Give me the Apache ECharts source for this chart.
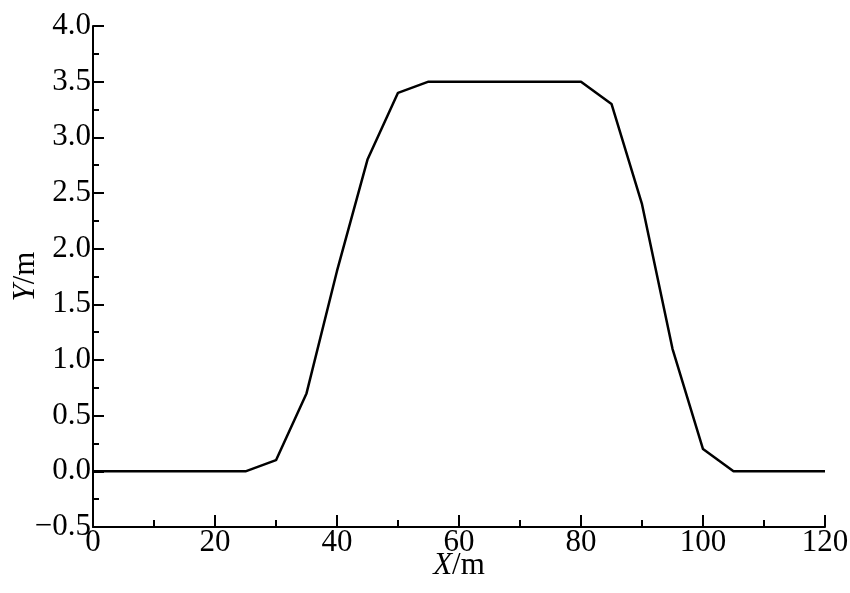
<!DOCTYPE html>
<html><head><meta charset="utf-8">
<script src="https://cdn.jsdelivr.net/npm/echarts@6/dist/echarts.min.js"></script>
<style>html,body{margin:0;padding:0;background:#fff}#c{width:850px;height:593px}</style>
</head><body><div id="c"></div>
<script>
var xValues = [0,5,10,15,20,25,30,35,40,45,50,55,60,65,70,75,80,85,90,95,100,105,110,115,120];
var yValues = [0,0,0,0,0,0,0.1,0.7,1.8,2.8,3.4,3.5,3.5,3.5,3.5,3.5,3.5,3.3,2.4,1.1,0.2,0,0,0,0];
var xTitle = 'X';
var yTitle = 'Y';
var unit = '/m';

var FONT = 'Liberation Serif';
var FS = 31;
var chart = echarts.init(document.getElementById('c'));
var pts = xValues.map(function(x,i){return [x, yValues[i]];});
chart.setOption({
  animation:false,
  grid:{left:93,right:25,top:26,bottom:66,containLabel:false,outerBoundsMode:'none'},
  xAxis:{type:'value',min:0,max:120,interval:20,
    axisLine:{show:true,onZero:false,lineStyle:{color:'#000',width:2}},
    axisTick:{show:true,inside:true,length:12,lineStyle:{color:'#000',width:2}},
    minorTick:{show:true,splitNumber:2,length:7,lineStyle:{color:'#000',width:2}},
    splitLine:{show:false},
    axisLabel:{color:'#000',fontFamily:FONT,fontSize:FS,margin:0},
    name:'{i|'+xTitle+'}'+unit,nameLocation:'middle',nameGap:23,nameMoveOverlap:false,
    nameTextStyle:{color:'#000',fontFamily:FONT,fontSize:FS,rich:{i:{fontStyle:'italic',fontFamily:FONT,fontSize:FS,color:'#000'}}}
  },
  yAxis:{type:'value',min:-0.5,max:4.0,interval:0.5,
    axisLine:{show:true,onZero:false,lineStyle:{color:'#000',width:2}},
    axisTick:{show:true,inside:true,length:11,lineStyle:{color:'#000',width:2}},
    minorTick:{show:true,splitNumber:2,length:6,lineStyle:{color:'#000',width:2}},
    splitLine:{show:false},
    axisLabel:{color:'#000',fontFamily:FONT,fontSize:FS,margin:2,
      formatter:function(v){return v.toFixed(1).replace('-','\u2212');}},
    name:'{i|'+yTitle+'}'+unit,nameLocation:'middle',nameGap:52,nameMoveOverlap:false,
    nameTextStyle:{color:'#000',fontFamily:FONT,fontSize:FS,rich:{i:{fontStyle:'italic',fontFamily:FONT,fontSize:FS,color:'#000'}}}
  },
  series:[{type:'line',data:pts,showSymbol:false,symbol:'none',
    lineStyle:{color:'#000',width:2.5}}]
});
</script></body></html>
